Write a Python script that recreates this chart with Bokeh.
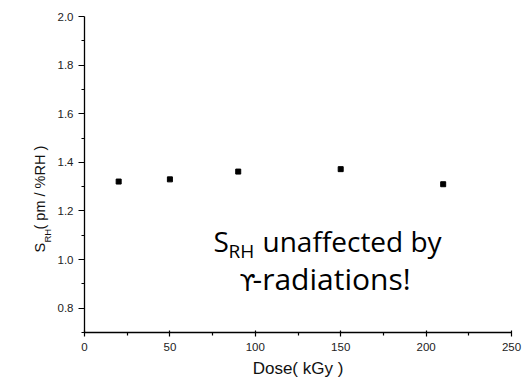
import math
from bokeh.plotting import figure
from bokeh.models import Label, Range1d, FixedTicker, ColumnDataSource
from bokeh.layouts import row
from bokeh.embed import file_html
from bokeh.resources import INLINE

# ---- data ----
dose = [20, 50, 90, 150, 210]
s_rh = [1.321, 1.330, 1.362, 1.372, 1.310]
x_ticks = [0, 50, 100, 150, 200, 250]
x_minor = [25, 75, 125, 175, 225]
y_ticks = [0.8, 1.0, 1.2, 1.4, 1.6, 1.8, 2.0]
y_tick_labels = ["0.8", "1.0", "1.2", "1.4", "1.6", "1.8", "2.0"]
y_minor = [0.7, 0.9, 1.1, 1.3, 1.5, 1.7, 1.9]

W, H = 532, 383
LW = 52                      # width of the side strip that holds the y title
L, R, T, B = 84, 21, 16, 51  # frame position in the full window
X0, X1 = 0, 250
Y0, Y1 = 0.7, 2.0
FONT = "Liberation Sans"
AF = "Open Sans"
fw = W - L - R
fh = H - T - B

# ---- side strip with the rotated y-axis title (its frame is aligned to the main frame) ----
lab = figure(width=LW, height=H, output_backend="svg", toolbar_location=None,
             x_range=Range1d(0, LW), y_range=Range1d(H - T - fh, H - T),
             x_axis_type=None, y_axis_type=None,
             min_border_left=0, min_border_right=0, min_border_top=0, min_border_bottom=0)
lab.outline_line_color = None
lab.xgrid.visible = False
lab.ygrid.visible = False
lab.background_fill_alpha = 0
lab.border_fill_alpha = 0

# (text, font px, baseline x, start y)
ylab = [("S", 14.5, 44, 252), ("RH", 9.5, 50, 242), ("( pm / %RH )", 14.5, 44, 229)]
for txt, fs, bx, by in ylab:
    lab.add_layout(Label(x=bx + 0.212 * fs, y=H - by, text=txt, angle=math.pi / 2,
                         text_align="left", text_baseline="bottom",
                         text_font=FONT, text_font_size=f"{fs}px", text_color="#111111"))

# ---- main chart ----
p = figure(width=W - LW, height=H, output_backend="svg", toolbar_location=None,
           x_range=Range1d(X0, X1), y_range=Range1d(Y0, Y1),
           min_border_left=L - LW, min_border_right=R, min_border_top=T, min_border_bottom=B)
p.outline_line_color = None
p.xgrid.visible = False
p.ygrid.visible = False
p.background_fill_alpha = 0
p.border_fill_alpha = 0

src = ColumnDataSource(dict(x=dose, y=s_rh))
p.scatter("x", "y", source=src, marker="square", size=5, color="black")

for ax in (p.xaxis[0], p.yaxis[0]):
    ax.axis_line_color = "black"
    ax.axis_line_width = 1.3
    ax.major_tick_line_color = "black"
    ax.minor_tick_line_color = "black"
    ax.major_tick_line_width = 1.2
    ax.minor_tick_line_width = 1.2
    ax.major_label_text_font = FONT
    ax.major_label_text_font_size = "11.5px"
    ax.major_label_text_color = "#222222"
    ax.axis_label_text_font = FONT
    ax.axis_label_text_font_style = "normal"
    ax.axis_label_text_color = "#111111"

p.xaxis.ticker = FixedTicker(ticks=x_ticks, minor_ticks=x_minor)
p.xaxis.major_tick_out = 4
p.xaxis.major_tick_in = 2
p.xaxis.minor_tick_out = 3
p.xaxis.minor_tick_in = 0
p.xaxis.major_label_standoff = 6
p.xaxis.axis_label = "Dose( kGy )"
p.xaxis.axis_label_text_font_size = "17px"
p.xaxis.axis_label_standoff = 5

p.yaxis.ticker = FixedTicker(ticks=y_ticks, minor_ticks=y_minor)
p.yaxis.major_label_overrides = {t: s for t, s in zip(y_ticks, y_tick_labels)}
p.yaxis.major_tick_out = 6
p.yaxis.major_tick_in = 0
p.yaxis.minor_tick_out = 3
p.yaxis.minor_tick_in = 0
p.yaxis.major_label_standoff = 5

def xd(px):
    return X0 + (px - L) / fw * (X1 - X0)
def yd(py):
    return Y1 - (py - T) / fh * (Y1 - Y0)

# ---- annotation: (text, font px, left x, baseline y, font, descent fraction) ----
ann = [("S", 28, 213, 252, AF, 0.268), ("RH", 19, 228, 258, AF, 0.268),
       ("unaffected by", 28, 262, 252, AF, 0.268),
       ("\u03d2", 23, 239, 290, "DejaVu Sans", 0.236), ("-radiations!", 30, 252, 290, AF, 0.268)]
for txt, fs, bx, by, fnt, dsc in ann:
    p.add_layout(Label(x=xd(bx), y=yd(by + dsc * fs), text=txt, text_align="left",
                       text_baseline="bottom", text_font=fnt,
                       text_font_size=f"{fs}px", text_color="black"))

layout = row(lab, p)
open("out.html", "w").write(file_html(layout, INLINE))
